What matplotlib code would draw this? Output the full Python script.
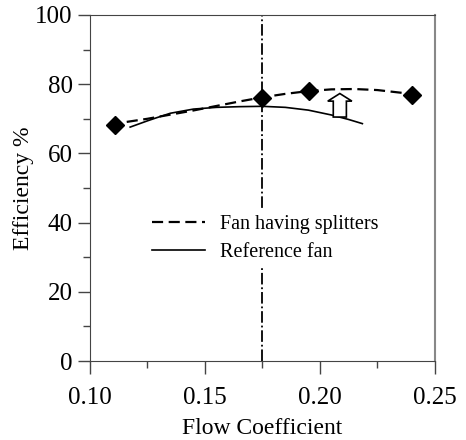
import matplotlib.pyplot as plt
import matplotlib.patches as mpatches
from matplotlib.ticker import MultipleLocator

plt.rcParams['font.family'] = ['Liberation Serif', 'DejaVu Serif']

# measured points, fan having splitters
split_pts_x = [0.111, 0.175, 0.1955, 0.240]
split_pts_y = [68.2, 76.1, 77.9, 76.9]

# dashed trend line through the splitter fan data
split_x = [0.116, 0.125, 0.135, 0.145, 0.155, 0.165, 0.175, 0.185, 0.195, 0.205, 0.215, 0.225, 0.237]
split_y = [69.1, 70.0, 71.2, 72.4, 73.7, 75.0, 76.2, 77.2, 78.0, 78.5, 78.6, 78.3, 77.4]

# reference fan curve
ref_x = [0.1175, 0.125, 0.129, 0.135, 0.145, 0.155, 0.165, 0.175, 0.185, 0.195, 0.205, 0.2125, 0.2185]
ref_y = [67.6, 69.4, 70.3, 71.6, 72.8, 73.3, 73.5, 73.6, 73.3, 72.5, 71.1, 69.8, 68.6]

design_phi = 0.175
arrow_x, arrow_y0, arrow_y1 = 0.2087, 70.5, 77.3

fig = plt.figure(figsize=(4.66, 4.40), dpi=100)
ax = fig.add_axes([0.193, 0.1795, 0.740, 0.7865])

ax.axvline(design_phi, color='black', lw=1.3, ls='-.')
ax.plot(split_x, split_y, color='black', lw=1.6, ls=(0, (5, 2.5)), label='Fan having splitters')
ax.plot(ref_x, ref_y, color='black', lw=1.2, label='Reference fan')
ax.plot(split_pts_x, split_pts_y, ls='none', marker='D', ms=9, color='black')

arr = mpatches.FancyArrow(arrow_x, arrow_y0, 0, arrow_y1 - arrow_y0, width=0.0057,
                          head_width=0.0105, head_length=2.2, length_includes_head=True,
                          facecolor='white', edgecolor='black', lw=1.2, zorder=5)
ax.add_patch(arr)

ax.set_xlim(0.10, 0.25)
ax.set_ylim(0, 100)
ax.xaxis.set_major_locator(MultipleLocator(0.05))
ax.xaxis.set_minor_locator(MultipleLocator(0.025))
ax.yaxis.set_major_locator(MultipleLocator(20))
ax.yaxis.set_minor_locator(MultipleLocator(10))
ax.xaxis.set_major_formatter(plt.FormatStrFormatter('%.2f'))
ax.tick_params(which='major', length=9, width=1, direction='out', labelsize=18,
               colors='#444444', labelcolor='black')
ax.tick_params(which='minor', length=5, width=1, direction='out', colors='#444444')
ax.tick_params(axis='x', which='major', pad=10)
ax.tick_params(top=False, right=False)

for side in ['left', 'bottom', 'top']:
    ax.spines[side].set_color('#444444')
ax.spines['right'].set_color('#888888')
ax.spines['right'].set_linewidth(1.5)

ax.set_xlabel('Flow Coefficient', fontsize=17, labelpad=6)
ax.set_ylabel('Efficiency %', fontsize=17, labelpad=1)

leg = ax.legend(loc='upper left', bbox_to_anchor=(0.134, 0.47), frameon=True, fontsize=14.5,
                handlelength=2.6, handletextpad=0.75, labelspacing=0.45,
                facecolor='white', edgecolor='none', framealpha=1, fancybox=False,
                borderpad=0.3)

fig.savefig('out.png', dpi=100)
